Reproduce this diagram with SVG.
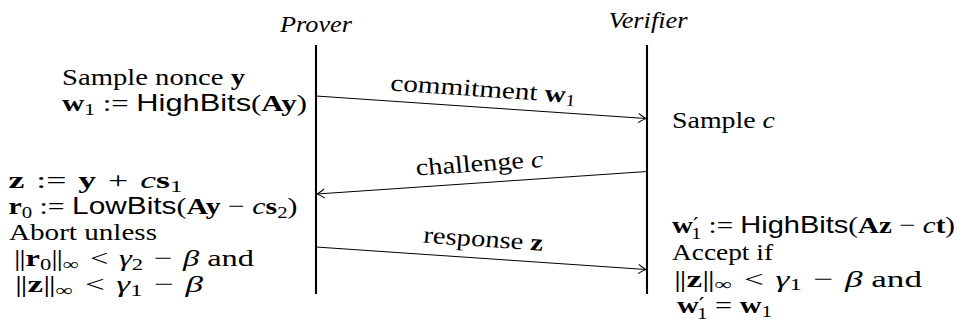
<svg xmlns="http://www.w3.org/2000/svg" width="957" height="329" viewBox="0 0 957 329">
  <style>
    text { font-family: "Liberation Serif", "DejaVu Serif", serif; font-size: 24px; fill: #000; }
    .b { font-weight: bold; }
    .i { font-style: italic; }
    .sf { font-family: "Liberation Sans", "DejaVu Sans", sans-serif; }
    .s { font-size: 16.8px; }
    .pr { font-family: "DejaVu Serif", serif; font-size: 20px; }
    .life { stroke: #000; stroke-width: 2.1; fill: none; }
    .msg { stroke: #000; stroke-width: 1; fill: none; marker-end: url(#to); }
  </style>
  <defs>
    <marker id="to" markerUnits="userSpaceOnUse" markerWidth="12" markerHeight="12" refX="0" refY="0" viewBox="-7 -5 8 10" orient="auto" overflow="visible">
      <path d="M-6,-3.6 C-4,-1.8 -1,-0.6 0,0 C-1,0.6 -4,1.8 -6,3.6" fill="none" stroke="#000" stroke-width="0.9" stroke-linecap="round"/>
    </marker>
  </defs>

  <!-- prover: lifeline and local computations -->
  <g id="prover">
    <text class="i" x="316" y="32" text-anchor="middle" textLength="72" lengthAdjust="spacingAndGlyphs">Prover</text>
    <line class="life" x1="316" y1="45" x2="316" y2="294"/>
    <text x="62" y="85" textLength="183" lengthAdjust="spacingAndGlyphs">Sample nonce <tspan class="b">y</tspan></text>
    <text x="62" y="111" textLength="245" lengthAdjust="spacingAndGlyphs"><tspan class="b">w</tspan><tspan class="s" dy="3.5">1</tspan><tspan dy="-3.5"> := </tspan><tspan class="sf">HighBits</tspan>(<tspan class="b">Ay</tspan>)</text>
    <text x="8.5" y="188" textLength="174" lengthAdjust="spacingAndGlyphs"><tspan class="b">z</tspan>&#8196;:=&#8196;<tspan class="b">y</tspan>&#8196;+&#8196;<tspan class="i">c</tspan><tspan class="b">s</tspan><tspan class="s" dy="3.5">1</tspan></text>
    <text x="8.5" y="214" textLength="289" lengthAdjust="spacingAndGlyphs"><tspan class="b">r</tspan><tspan class="s" dy="3.5">0</tspan><tspan dy="-3.5"> := </tspan><tspan class="sf">LowBits</tspan>(<tspan class="b">Ay</tspan> − <tspan class="i">c</tspan><tspan class="b">s</tspan><tspan class="s" dy="3.5">2</tspan><tspan dy="-3.5">)</tspan></text>
    <text x="9" y="240" textLength="148" lengthAdjust="spacingAndGlyphs">Abort unless</text>
    <text x="14" y="266" textLength="240" lengthAdjust="spacingAndGlyphs">|<tspan dx="-1">|</tspan><tspan class="b">r</tspan><tspan class="s" dy="3.5">0</tspan><tspan dy="-3.5">|</tspan><tspan dx="-1">|</tspan><tspan class="s" dy="3.5">∞</tspan><tspan dy="-3.5">&#8196;&lt;&#8196;</tspan><tspan class="i">γ</tspan><tspan class="s" dy="3.5">2</tspan><tspan dy="-3.5">&#8196;−&#8196;</tspan><tspan class="i">β</tspan> and</text>
    <text x="15" y="292" textLength="188" lengthAdjust="spacingAndGlyphs">|<tspan dx="-1">|</tspan><tspan class="b">z</tspan>|<tspan dx="-1">|</tspan><tspan class="s" dy="3.5">∞</tspan><tspan dy="-3.5">&#8196;&lt;&#8196;</tspan><tspan class="i">γ</tspan><tspan class="s" dy="3.5">1</tspan><tspan dy="-3.5">&#8196;−&#8196;</tspan><tspan class="i">β</tspan></text>
  </g>

  <!-- verifier: lifeline and local computations -->
  <g id="verifier">
    <text class="i" x="648" y="28" text-anchor="middle" textLength="79" lengthAdjust="spacingAndGlyphs">Verifier</text>
    <line class="life" x1="647" y1="45" x2="647" y2="294"/>
    <text x="672" y="128" textLength="103" lengthAdjust="spacingAndGlyphs">Sample <tspan class="i">c</tspan></text>
    <text x="672" y="233" textLength="283" lengthAdjust="spacingAndGlyphs"><tspan class="b">w</tspan><tspan class="pr" dy="-1">′</tspan><tspan class="s" dx="-6" dy="6.5">1</tspan><tspan dy="-5.5"> := </tspan><tspan class="sf">HighBits</tspan>(<tspan class="b">Az</tspan> − <tspan class="i">c</tspan><tspan class="b">t</tspan>)</text>
    <text x="672" y="260" textLength="101" lengthAdjust="spacingAndGlyphs">Accept if</text>
    <text x="674" y="286.5" textLength="248" lengthAdjust="spacingAndGlyphs">|<tspan dx="-1">|</tspan><tspan class="b">z</tspan>|<tspan dx="-1">|</tspan><tspan class="s" dy="3.5">∞</tspan><tspan dy="-3.5">&#8196;&lt;&#8196;</tspan><tspan class="i">γ</tspan><tspan class="s" dy="3.5">1</tspan><tspan dy="-3.5">&#8196;−&#8196;</tspan><tspan class="i">β</tspan> and</text>
    <text x="677" y="313" textLength="95" lengthAdjust="spacingAndGlyphs"><tspan class="b">w</tspan><tspan class="pr" dy="-1">′</tspan><tspan class="s" dx="-6" dy="6.5">1</tspan><tspan dy="-5.5"> = </tspan><tspan class="b">w</tspan><tspan class="s" dy="3.5">1</tspan></text>
  </g>

  <!-- messages between the two parties -->
  <g id="connectors">
    <line class="msg" x1="316" y1="96" x2="646" y2="118.5"/>
    <g transform="translate(481.5,107.25) scale(1.22,1) rotate(4.75)">
      <text x="0" y="-10.6" text-anchor="middle" textLength="152.5" lengthAdjust="spacingAndGlyphs">commitment <tspan class="b">w</tspan><tspan class="s" dy="3.5">1</tspan></text>
    </g>
    <line class="msg" x1="647" y1="171.5" x2="317" y2="194"/>
    <g transform="translate(481.5,182.75) scale(1.22,1) rotate(-4.8)">
      <text x="0" y="-11.6" text-anchor="middle" textLength="105" lengthAdjust="spacingAndGlyphs">challenge <tspan class="i">c</tspan></text>
    </g>
    <line class="msg" x1="316" y1="247" x2="646" y2="269.5"/>
    <g transform="translate(481.5,258.25) scale(1.22,1) rotate(4.75)">
      <text x="0" y="-11.6" text-anchor="middle" textLength="98.4" lengthAdjust="spacingAndGlyphs">response <tspan class="b">z</tspan></text>
    </g>
  </g>
</svg>
